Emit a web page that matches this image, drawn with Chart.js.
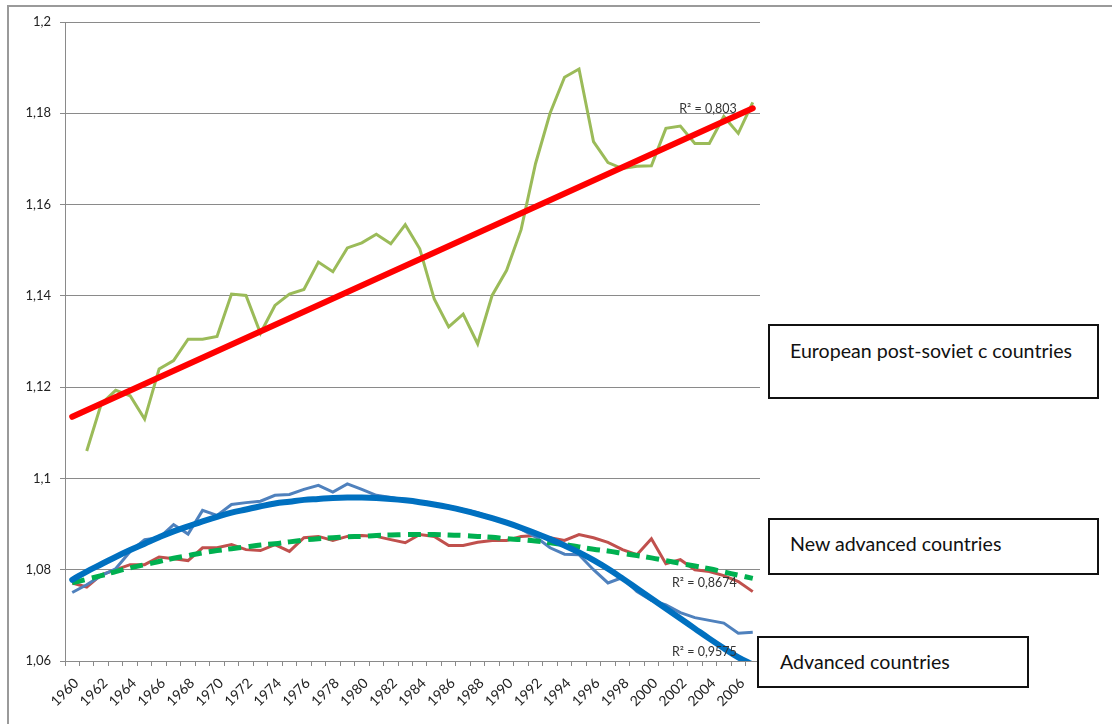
<!DOCTYPE html>
<html>
<head>
<meta charset="utf-8">
<script src="https://cdn.jsdelivr.net/npm/chart.js@4"></script>
<style>
  body { margin: 0; background: #fff; }
  #wrap { position: relative; width: 1112px; height: 724px; }
  #chart { position: absolute; left: 0; top: 0; }
  .box {
    position: absolute;
    box-sizing: border-box;
    border: 2px solid #111;
    background: #fff;
    font-family: Lato, "Liberation Sans", sans-serif;
    font-size: 19.6px;
    line-height: 22px;
    color: #111;
  }
</style>
</head>
<body>
<div id="wrap">
  <canvas id="chart" width="1112" height="724"></canvas>
  <div class="box" style="left:768px;top:324px;width:331px;height:75px;padding:14px 0 0 20px;">European post-soviet c countries</div>
  <div class="box" style="left:768px;top:518px;width:331px;height:57px;padding:13px 0 0 20px;">New advanced countries</div>
  <div class="box" style="left:757px;top:636px;width:272px;height:52px;padding:13px 0 0 21px;">Advanced countries</div>
</div>
<script>
const years = [
  "1960", "1961", "1962", "1963", "1964", "1965", "1966", "1967", "1968", "1969",
  "1970", "1971", "1972", "1973", "1974", "1975", "1976", "1977", "1978", "1979",
  "1980", "1981", "1982", "1983", "1984", "1985", "1986", "1987", "1988", "1989",
  "1990", "1991", "1992", "1993", "1994", "1995", "1996", "1997", "1998", "1999",
  "2000", "2001", "2002", "2003", "2004", "2005", "2006", "2007",
];

// European post-soviet countries
const postSoviet = [
  null, 1.106, 1.1163, 1.1193, 1.1181, 1.113, 1.124, 1.1258, 1.1305, 1.1305,
  1.1311, 1.1404, 1.1401, 1.1318, 1.1379, 1.1404, 1.1414, 1.1474, 1.1453, 1.1505,
  1.1516, 1.1535, 1.1514, 1.1556, 1.1503, 1.1393, 1.1332, 1.136, 1.1295, 1.1401,
  1.1456, 1.1545, 1.169, 1.18, 1.1879, 1.1897, 1.1738, 1.1692, 1.1679, 1.1684,
  1.1685, 1.1767, 1.1772, 1.1734, 1.1734, 1.1793, 1.1756, 1.1824,
];

// linear trend, only the two ends are given
const postSovietTrend = [
  1.1135, null, null, null, null, null, null, null, null, null,
  null, null, null, null, null, null, null, null, null, null,
  null, null, null, null, null, null, null, null, null, null,
  null, null, null, null, null, null, null, null, null, null,
  null, null, null, null, null, null, null, 1.1811,
];

// Advanced countries
const advanced = [
  1.075, 1.0767, 1.0787, 1.0802, 1.084, 1.0866, 1.087, 1.0899, 1.0878, 1.093,
  1.0919, 1.0943, 1.0947, 1.095, 1.0963, 1.0965, 1.0976, 1.0985, 1.097, 1.0988,
  1.0976, 1.0963, 1.0958, 1.0952, 1.0947, 1.0943, 1.0939, 1.0932, 1.0925, 1.0914,
  1.0903, 1.0889, 1.0872, 1.0848, 1.0834, 1.0833, 1.08, 1.0771, 1.0783, 1.0752,
  1.0733, 1.0723, 1.0706, 1.0695, 1.0689, 1.0683, 1.0661, 1.0663,
];

const advancedTrend = [
  1.0778, 1.0796, 1.0812, 1.0828, 1.0843, 1.0857, 1.0871, 1.0884, 1.0895, 1.0906,
  1.0916, 1.0925, 1.0932, 1.0939, 1.0945, 1.0949, 1.0953, 1.0955, 1.0957, 1.0958,
  1.0958, 1.0957, 1.0955, 1.0952, 1.0948, 1.0943, 1.0937, 1.093, 1.0922, 1.0913,
  1.0903, 1.0892, 1.088, 1.0867, 1.0853, 1.0838, 1.0821, 1.0802, 1.0781, 1.0759,
  1.0737, 1.0715, 1.0693, 1.0671, 1.0649, 1.0628, 1.0608, 1.0592,
];

// New advanced countries
const newAdvanced = [
  1.0771, 1.0762, 1.0789, 1.08, 1.0811, 1.0811, 1.0828, 1.0824, 1.082, 1.0848,
  1.0848, 1.0855, 1.0844, 1.0842, 1.0855, 1.084, 1.087, 1.0873, 1.0864, 1.0873,
  1.0875, 1.0873, 1.0866, 1.0859, 1.0877, 1.0873, 1.0853, 1.0853, 1.086, 1.0864,
  1.0864, 1.0873, 1.0875, 1.087, 1.0864, 1.0877, 1.087, 1.086, 1.0844, 1.0833,
  1.0868, 1.0813, 1.0822, 1.08, 1.0796, 1.0787, 1.0774, 1.0752,
];

const newAdvancedTrend = [
  1.0771, 1.0779, 1.0787, 1.0796, 1.0804, 1.0811, 1.0818, 1.0825, 1.0831, 1.0837,
  1.0842, 1.0846, 1.085, 1.0854, 1.0857, 1.0861, 1.0865, 1.0868, 1.087, 1.0872,
  1.0873, 1.0875, 1.0876, 1.0877, 1.0877, 1.0877, 1.0876, 1.0875, 1.0873, 1.0871,
  1.0868, 1.0866, 1.0863, 1.0859, 1.0855, 1.085, 1.0845, 1.0841, 1.0836, 1.0831,
  1.0826, 1.082, 1.0814, 1.0808, 1.0802, 1.0795, 1.0788, 1.0781,
];

const r2Labels = ["R\u00b2 = 0,803", "R\u00b2 = 0,8674", "R\u00b2 = 0,9575"];

const yTicks = [1.06, 1.08, 1.1, 1.12, 1.14, 1.16, 1.18, 1.2];

const frame = {
  id: "frame",
  beforeDraw(chart) {
    const ctx = chart.ctx;
    ctx.save();
    ctx.fillStyle = "#fff";
    ctx.fillRect(0, 0, chart.width, chart.height);
    ctx.strokeStyle = "#9a9a9a";
    ctx.lineWidth = 2;
    ctx.beginPath();
    ctx.moveTo(8, chart.height);
    ctx.lineTo(8, 6);
    ctx.lineTo(chart.width, 6);
    ctx.stroke();
    ctx.restore();
  },
  afterDatasetsDraw(chart) {
    const ctx = chart.ctx;
    const x = chart.scales.x;
    const y = chart.scales.y;
    const last = years.length - 1;
    const xr = x.getPixelForValue(last) - 16;
    ctx.save();
    ctx.font = "12.5px Lato, 'Liberation Sans', sans-serif";
    ctx.fillStyle = "#333";
    ctx.textAlign = "right";
    ctx.textBaseline = "middle";
    ctx.fillText(r2Labels[0], xr, y.getPixelForValue(postSovietTrend[last]) + 1);
    ctx.fillText(r2Labels[1], xr, y.getPixelForValue(newAdvancedTrend[last]) + 5);
    ctx.fillText(r2Labels[2], xr, y.getPixelForValue(1.06) - 9);
    ctx.restore();
  },
};

const ctx = document.getElementById("chart").getContext("2d");

new Chart(ctx, {
  type: "line",
  data: {
    labels: years,
    datasets: [
      {
        label: "Linear trend",
        data: postSovietTrend,
        borderColor: "#ff0000",
        borderWidth: 6,
        borderCapStyle: "round",
        spanGaps: true,
        order: 1,
      },
      {
        label: "European post-soviet c countries",
        data: postSoviet,
        borderColor: "#9bbb59",
        borderWidth: 3,
        order: 2,
      },
      {
        label: "Poly trend advanced",
        data: advancedTrend,
        borderColor: "#0070c0",
        borderWidth: 6,
        borderCapStyle: "round",
        tension: 0.4,
        clip: 0,
        order: 3,
      },
      {
        label: "Poly trend new advanced",
        data: newAdvancedTrend,
        borderColor: "#00b050",
        borderWidth: 5,
        borderDash: [13, 7],
        tension: 0.4,
        order: 4,
      },
      {
        label: "Advanced countries",
        data: advanced,
        borderColor: "#4f81bd",
        borderWidth: 3,
        order: 5,
      },
      {
        label: "New advanced countries",
        data: newAdvanced,
        borderColor: "#c0504d",
        borderWidth: 3,
        order: 6,
      },
    ],
  },
  options: {
    responsive: false,
    animation: false,
    devicePixelRatio: 1,
    layout: {
      padding: { left: 0, right: 352, top: 22, bottom: 0 },
    },
    elements: {
      point: { radius: 0 },
      line: { fill: false },
    },
    plugins: {
      legend: { display: false },
      tooltip: { enabled: false },
    },
    scales: {
      x: {
        type: "category",
        offset: true,
        grid: {
          offset: true,
          drawOnChartArea: false,
          drawTicks: true,
          tickLength: 5,
          color: "#8a8a8a",
        },
        border: { display: true, color: "#8a8a8a" },
        ticks: {
          autoSkip: false,
          maxRotation: 45,
          minRotation: 45,
          padding: 9,
          labelOffset: 4,
          color: "#222",
          font: { family: "Lato, 'Liberation Sans', sans-serif", size: 14 },
          callback: function (val, i) {
            return i % 2 === 0 ? years[i] : "";
          },
        },
        afterFit: function (scale) {
          scale.height = 63;
        },
      },
      y: {
        min: 1.06,
        max: 1.2,
        afterBuildTicks: function (scale) {
          scale.ticks = yTicks.map((v) => ({ value: v }));
        },
        grid: {
          color: "#8a8a8a",
          tickLength: 5,
        },
        border: { display: true, color: "#8a8a8a" },
        ticks: {
          padding: 9,
          color: "#222",
          font: { family: "Lato, 'Liberation Sans', sans-serif", size: 13 },
          callback: function (v) {
            return String(Number(v.toFixed(2))).replace(".", ",");
          },
        },
        afterFit: function (scale) {
          scale.width = 65;
        },
      },
    },
  },
  plugins: [frame],
});
</script>
</body>
</html>
